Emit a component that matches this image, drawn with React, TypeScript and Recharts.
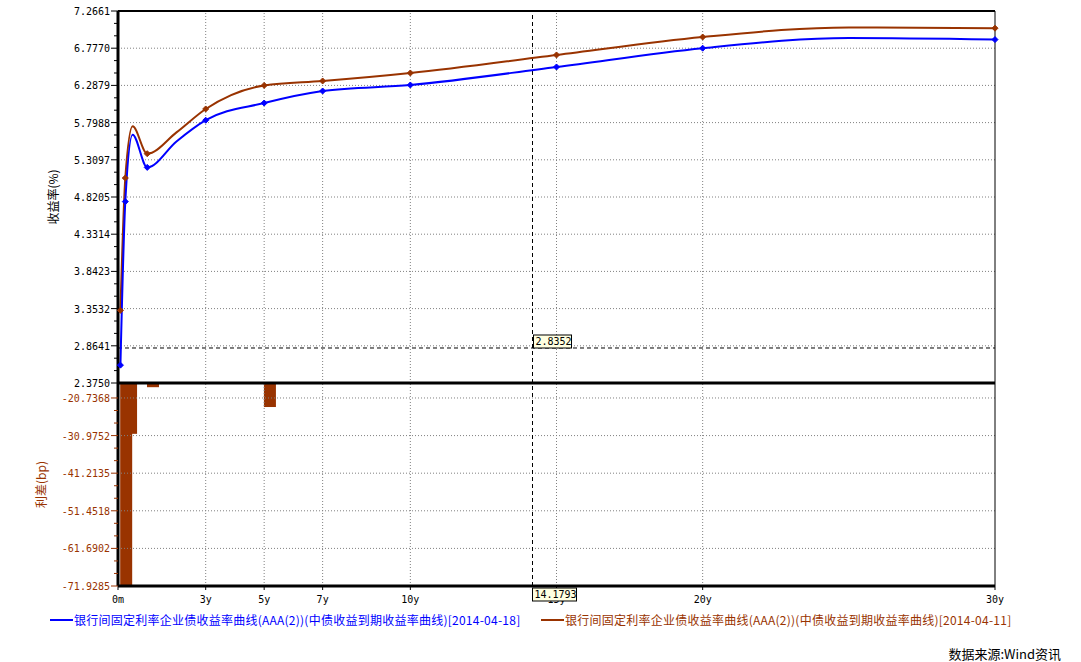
import React from 'react';
import { ComposedChart, Line, Bar, XAxis, YAxis, ReferenceLine, ReferenceDot } from 'recharts';

// ---- data ----
const tenors = [0.083, 0.25, 0.5, 1, 2, 3, 5, 7, 10, 15, 20, 25, 30];
const curve0418 = [2.61, 4.76, 5.64, 5.21, 5.55, 5.83, 6.056, 6.214, 6.293, 6.53, 6.777, 6.91, 6.89];
const curve0411 = [3.33, 5.07, 5.75, 5.39, 5.67, 5.978, 6.288, 6.346, 6.451, 6.688, 6.924, 7.05, 7.04];
const spreadBp: (number | null)[] = [-71.9285, -30.5, null, -17.8, null, null, -23.2, null, null, null, null, null, null];
const markedTenors = [0.083, 0.25, 1, 3, 5, 7, 10, 15, 20, 30];
const yieldTicks = [2.375, 2.8641, 3.3532, 3.8423, 4.3314, 4.8205, 5.3097, 5.7988, 6.2879, 6.777, 7.2661];
const spreadTicks = [-71.9285, -61.6902, -51.4518, -41.2135, -30.9752, -20.7368];
const spreadTop = -16.66;
const xTicks = [0, 3, 5, 7, 10, 15, 20, 30];
const xTickLabels = ['0m', '3y', '5y', '7y', '10y', '15y', '20y', '30y'];
const gridX = [3, 5, 7, 10, 15, 20];
const cursorTenor = 14.1793;
const cursorYield = 2.8352;
const cursorTenorLabel = '14.1793';
const cursorYieldLabel = '2.8352';
const seriesNames = [
  '银行间固定利率企业债收益率曲线(AAA(2))(中债收益到期收益率曲线)[2014-04-18]',
  '银行间固定利率企业债收益率曲线(AAA(2))(中债收益到期收益率曲线)[2014-04-11]',
];
const yieldTitle = '收益率(%)';
const spreadTitle = '利差(bp)';
const sourceText = '数据来源:Wind资讯';

const BLUE = '#0000ff';
const BROWN = '#993300';
const GRID = '#808080';
const MONO = '"DejaVu Sans Mono", "Liberation Mono", monospace';
const CJK = '"Noto Sans CJK SC", sans-serif';
const BAR_W = 12;

const rows = tenors.map((t, i) => ({ tenor: t, a: curve0418[i], b: curve0411[i], s: spreadBp[i] }));
const cursorRows = [{ tenor: cursorTenor, y: cursorYield, s: spreadTicks[0] }];

function withMinors(majors: number[]) {
  const out: number[] = [];
  for (let i = 0; i < majors.length; i++) {
    out.push(majors[i]);
    if (i < majors.length - 1) {
      const d = majors[i + 1] - majors[i];
      out.push(majors[i] + d / 3, majors[i] + (2 * d) / 3);
    }
  }
  return out;
}

function makeYTick(majors: number[], color: string) {
  return (props: any) => {
    const { x, y, payload } = props;
    const v = payload.value as number;
    const isMajor = majors.some((m) => Math.abs(m - v) < 1e-6);
    return (
      <g>
        <line x1={x - (isMajor ? 7 : 4)} x2={x} y1={y} y2={y} stroke={color} strokeWidth={1} />
        {isMajor && (
          <text x={x - 8} y={y} dy={4} textAnchor="end" fill={color} fontSize={10} fontFamily={MONO}>
            {v.toFixed(4)}
          </text>
        )}
      </g>
    );
  };
}

function makeDot(color: string) {
  return (p: any) => {
    const { cx, cy, payload, index } = p;
    if (!markedTenors.includes(payload.tenor)) return <g key={`d${index}`} />;
    const r = 3;
    return (
      <polygon
        key={`d${index}`}
        points={`${cx},${cy - r} ${cx + r},${cy} ${cx},${cy + r} ${cx - r},${cy}`}
        fill={color}
        stroke={color}
      />
    );
  };
}

const yTitle = (text: string, color: string, dx: number) => (props: any) => {
  const vb = props.viewBox;
  const x = vb.x + dx;
  const y = vb.y + vb.height / 2;
  return (
    <text x={x} y={y} transform={`rotate(-90 ${x} ${y})`} textAnchor="middle" dominantBaseline="central" fill={color} fontSize={12} fontFamily={CJK}>
      {text}
    </text>
  );
};

const BarShape = (p: any) => {
  const y0 = Math.min(p.y, p.y + p.height);
  const h = Math.abs(p.height);
  if (!h) return <g />;
  const center = p.x + p.width / 2;
  return <rect x={center} y={y0} width={BAR_W} height={h} fill={BROWN} />;
};

const YieldLabelDot = (p: any) => {
  const { cx, cy, index } = p;
  return (
    <g key={`yl${index}`}>
      <rect x={cx + 1} y={cy - 13} width={38} height={13} fill="#ffffe1" stroke="#000" strokeWidth={1} />
      <text x={cx + 3} y={cy - 3} fontSize={10} fontFamily={MONO} fill="#000">{cursorYieldLabel}</text>
    </g>
  );
};

const TenorLabelDot = (p: any) => {
  const { cx, cy, index } = p;
  return (
    <g key={`tl${index}`}>
      <rect x={cx} y={cy + 2} width={44} height={13} fill="#ffffe1" stroke="#000" strokeWidth={1} />
      <text x={cx + 2} y={cy + 12} fontSize={10} fontFamily={MONO} fill="#000">{cursorTenorLabel}</text>
    </g>
  );
};

const W = 1081;
const LEFT = 118;
const RIGHT = 86;

export default function App() {
  const yieldAllTicks = withMinors(yieldTicks);
  const spreadAllTicks = withMinors(spreadTicks);
  const yieldDomain: [number, number] = [yieldTicks[0], yieldTicks[yieldTicks.length - 1]];
  const spreadDomain: [number, number] = [spreadTicks[0], spreadTop];
  return (
    <div style={{ position: 'absolute', left: 0, top: 0, width: W, height: 662, background: '#fff', fontFamily: CJK, overflow: 'hidden' }}>
      {/* bottom panel: spread bars */}
      <div style={{ position: 'absolute', left: 0, top: 383 }}>
        <ComposedChart width={W} height={240} data={rows} margin={{ top: 0, right: RIGHT, left: 0, bottom: 0 }}>
          <XAxis
            dataKey="tenor"
            type="number"
            domain={[0, 30]}
            ticks={xTicks}
            interval={0}
            height={37}
            tickFormatter={(v: number) => xTickLabels[xTicks.indexOf(v)]}
            axisLine={{ stroke: '#000', strokeWidth: 3 }}
            tickLine={{ stroke: '#000' }}
            tickSize={4}
            tickMargin={6}
            tick={{ fill: '#000', fontSize: 10, fontFamily: MONO }}
          />
          <YAxis
            type="number"
            domain={spreadDomain}
            allowDataOverflow
            ticks={spreadAllTicks}
            interval={0}
            width={LEFT}
            tickSize={0}
            tickMargin={0}
            tickLine={false}
            axisLine={{ stroke: '#000', strokeWidth: 3 }}
            tick={makeYTick(spreadTicks, BROWN)}
            label={{ content: yTitle(spreadTitle, BROWN, 40) }}
          />
          {gridX.map((t) => (
            <ReferenceLine key={`bgx${t}`} x={t} stroke={GRID} strokeDasharray="1 2" />
          ))}
          {spreadTicks.slice(1).map((v) => (
            <ReferenceLine key={`bgy${v}`} y={v} stroke={GRID} strokeDasharray="1 2" />
          ))}
          <ReferenceLine x={30} stroke="#000" strokeWidth={1} />
          <ReferenceLine x={cursorTenor} stroke="#000" strokeDasharray="4 3" />
          <Bar dataKey="s" barSize={BAR_W} shape={BarShape} isAnimationActive={false} />
        </ComposedChart>
      </div>

      {/* top panel: yield curves */}
      <div style={{ position: 'absolute', left: 0, top: 0 }}>
        <ComposedChart width={W} height={395} data={rows} margin={{ top: 11, right: RIGHT, left: 0, bottom: 12 }}>
          <XAxis dataKey="tenor" type="number" domain={[0, 30]} ticks={xTicks} hide />
          <YAxis
            type="number"
            domain={yieldDomain}
            ticks={yieldAllTicks}
            interval={0}
            width={LEFT}
            tickSize={0}
            tickMargin={0}
            tickLine={false}
            axisLine={{ stroke: '#000', strokeWidth: 3 }}
            tick={makeYTick(yieldTicks, '#000')}
            label={{ content: yTitle(yieldTitle, '#000', 52) }}
          />
          {gridX.map((t) => (
            <ReferenceLine key={`gx${t}`} x={t} stroke={GRID} strokeDasharray="1 2" />
          ))}
          {yieldTicks.slice(1, -1).map((v) => (
            <ReferenceLine key={`gy${v}`} y={v} stroke={GRID} strokeDasharray="1 2" />
          ))}
          <ReferenceLine y={yieldDomain[1]} stroke="#000" strokeWidth={2} />
          <ReferenceLine x={30} stroke="#000" strokeWidth={1} />
          <ReferenceLine x={cursorTenor} stroke="#000" strokeDasharray="4 3" />
          <ReferenceLine y={cursorYield} stroke="#000" strokeDasharray="4 3" />
          <Line type="monotone" dataKey="b" stroke={BROWN} strokeWidth={2} dot={makeDot(BROWN)} activeDot={false} isAnimationActive={false} />
          <Line type="monotone" dataKey="a" stroke={BLUE} strokeWidth={2} dot={makeDot(BLUE)} activeDot={false} isAnimationActive={false} />
          <ReferenceLine y={yieldDomain[0]} stroke="#000" strokeWidth={3} />
        </ComposedChart>
      </div>

      {/* overlay: crosshair value labels, drawn as the dot of an invisible one-point series */}
      <div style={{ position: 'absolute', left: 0, top: 0 }}>
        <ComposedChart width={W} height={395} data={cursorRows} margin={{ top: 11, right: RIGHT, left: LEFT, bottom: 12 }}>
          <XAxis dataKey="tenor" type="number" domain={[0, 30]} hide />
          <YAxis type="number" domain={yieldDomain} hide />
          <Line dataKey="y" stroke="none" dot={YieldLabelDot} activeDot={false} isAnimationActive={false} />
        </ComposedChart>
      </div>
      <div style={{ position: 'absolute', left: 0, top: 383 }}>
        <ComposedChart width={W} height={240} data={cursorRows} margin={{ top: 0, right: RIGHT, left: LEFT, bottom: 37 }}>
          <XAxis dataKey="tenor" type="number" domain={[0, 30]} hide />
          <YAxis type="number" domain={spreadDomain} hide />
          <Line dataKey="s" stroke="none" dot={TenorLabelDot} activeDot={false} isAnimationActive={false} />
        </ComposedChart>
      </div>

      {/* legend */}
      <div style={{ position: 'absolute', left: 50, top: 611, display: 'flex', alignItems: 'center', fontSize: 12, letterSpacing: 0.25, color: BLUE, whiteSpace: 'nowrap' }}>
        <span style={{ display: 'inline-block', width: 23, height: 2, background: BLUE, marginRight: 1 }} />
        <span>{seriesNames[0]}</span>
      </div>
      <div style={{ position: 'absolute', left: 541, top: 611, display: 'flex', alignItems: 'center', fontSize: 12, letterSpacing: 0.25, color: BROWN, whiteSpace: 'nowrap' }}>
        <span style={{ display: 'inline-block', width: 23, height: 2, background: BROWN, marginRight: 1 }} />
        <span>{seriesNames[1]}</span>
      </div>
      <div style={{ position: 'absolute', right: 20, top: 646, fontSize: 13, lineHeight: '15px', color: '#000', whiteSpace: 'nowrap' }}>
        {sourceText}
      </div>
    </div>
  );
}
